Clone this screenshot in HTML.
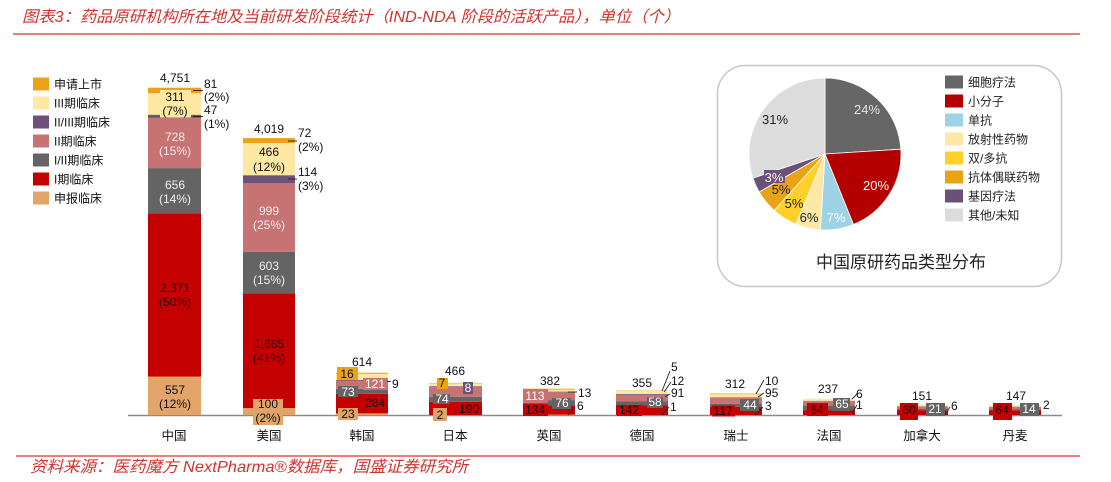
<!DOCTYPE html>
<html><head><meta charset="utf-8">
<style>
html,body{margin:0;padding:0;background:#fff;}
svg{display:block;}
text{font-family:"Liberation Sans","Noto Sans CJK SC",sans-serif;}
</style></head>
<body>
<svg width="1111" height="482" viewBox="0 0 1111 482" xmlns="http://www.w3.org/2000/svg">
<rect width="1111" height="482" fill="#fff"/>
<!-- title -->
<text x="22" y="22" font-size="16" font-style="italic" fill="#d2322d" textLength="658" lengthAdjust="spacingAndGlyphs">图表3：药品原研机构所在地及当前研发阶段统计（IND-NDA 阶段的活跃产品），单位（个）</text>
<line x1="13" y1="34" x2="1080" y2="34" stroke="#d9302c" stroke-width="1.3"/>
<line x1="16" y1="456" x2="1080" y2="456" stroke="#d9302c" stroke-width="1.3"/>
<text x="30" y="472" font-size="16" font-style="italic" fill="#d2322d" textLength="438" lengthAdjust="spacingAndGlyphs">资料来源：医药魔方 NextPharma®数据库，国盛证券研究所</text>

<!-- left legend -->
<g font-size="12" fill="#111">
<rect x="33" y="77.5" width="16" height="13" fill="#eaa319"/><text x="54" y="88.5">申请上市</text>
<rect x="33" y="96.5" width="16" height="13" fill="#fee8a4"/><text x="54" y="107.5">III期临床</text>
<rect x="33" y="115.5" width="16" height="13" fill="#6c5279"/><text x="54" y="126.5">II/III期临床</text>
<rect x="33" y="134.5" width="16" height="13" fill="#c87373"/><text x="54" y="145.5">II期临床</text>
<rect x="33" y="153.5" width="16" height="13" fill="#646464"/><text x="54" y="164.5">I/II期临床</text>
<rect x="33" y="172.5" width="16" height="13" fill="#c40000"/><text x="54" y="183.5">I期临床</text>
<rect x="33" y="191.5" width="16" height="13" fill="#e2a468"/><text x="54" y="202.5">申报临床</text>
</g>

<!-- axis -->
<line x1="128" y1="415.5" x2="1062" y2="415.5" stroke="#8a8a8a" stroke-width="1.4"/>

<!-- China -->
<g>
<rect x="148" y="376.6" width="53" height="38.4" fill="#e2a468"/>
<rect x="148" y="213.3" width="53" height="163.3" fill="#c40000"/>
<rect x="148" y="168.1" width="53" height="45.2" fill="#646464"/>
<rect x="148" y="117.9" width="53" height="50.2" fill="#c87373"/>
<rect x="148" y="114.7" width="53" height="3.2" fill="#6c5279"/>
<rect x="148" y="93.2" width="53" height="21.5" fill="#fee8a4"/>
<rect x="148" y="87.7" width="53" height="5.5" fill="#eaa319"/>
<rect x="160" y="90" width="31" height="27.5" fill="#fee8a4"/>
</g>
<!-- US -->
<g>
<rect x="243" y="408.1" width="52" height="6.9" fill="#e2a468"/>
<rect x="243" y="293.4" width="52" height="114.7" fill="#c40000"/>
<rect x="243" y="251.8" width="52" height="41.6" fill="#646464"/>
<rect x="243" y="183.0" width="52" height="68.8" fill="#c87373"/>
<rect x="243" y="175.2" width="52" height="7.8" fill="#6c5279"/>
<rect x="243" y="143.1" width="52" height="32.1" fill="#fee8a4"/>
<rect x="243" y="138.1" width="52" height="5.0" fill="#eaa319"/>
<rect x="253" y="399" width="30" height="26" fill="#e2a468"/>
</g>
<!-- Korea -->
<g>
<rect x="336" y="413.4" width="52" height="1.6" fill="#e2a468"/>
<rect x="336" y="393.85" width="52" height="19.55" fill="#c40000"/>
<rect x="336" y="388.8" width="52" height="5.05" fill="#646464"/>
<rect x="336" y="380.5" width="52" height="8.3" fill="#c87373"/>
<rect x="336" y="379.9" width="52" height="0.6" fill="#6c5279"/>
<rect x="336" y="373.8" width="52" height="6.1" fill="#fee8a4"/>
<rect x="336" y="372.7" width="52" height="1.1" fill="#eaa319"/>
<rect x="337" y="367" width="21" height="13" fill="#eaa319"/>
<rect x="363" y="378" width="25" height="12" fill="#c87373"/>
<rect x="338" y="386" width="20" height="11" fill="#646464"/>
<rect x="338" y="408" width="20" height="12" fill="#e2a468"/>
</g>
<!-- Japan -->
<g>
<rect x="429" y="401.8" width="53" height="13.2" fill="#c40000"/>
<rect x="429" y="396.7" width="53" height="5.1" fill="#646464"/>
<rect x="429" y="386.7" width="53" height="10" fill="#c87373"/>
<rect x="429" y="386.1" width="53" height="0.6" fill="#6c5279"/>
<rect x="429" y="383.4" width="53" height="2.7" fill="#fee8a4"/>
<rect x="429" y="382.9" width="53" height="0.5" fill="#eaa319"/>
<rect x="437" y="378" width="11" height="11" fill="#eaa319"/>
<rect x="463" y="382" width="10" height="12" fill="#6c5279"/>
<rect x="433" y="394" width="17" height="10" fill="#646464"/>
<rect x="433" y="408" width="14" height="13" fill="#e2a468"/>
</g>
<!-- UK -->
<g>
<rect x="523" y="414.6" width="52" height="0.4" fill="#e2a468"/>
<rect x="523" y="405.4" width="52" height="9.2" fill="#c40000"/>
<rect x="523" y="400.1" width="52" height="5.3" fill="#646464"/>
<rect x="523" y="392.3" width="52" height="7.8" fill="#c87373"/>
<rect x="523" y="391.6" width="52" height="0.7" fill="#6c5279"/>
<rect x="523" y="389.6" width="52" height="2.0" fill="#fee8a4"/>
<rect x="523" y="388.7" width="52" height="0.9" fill="#eaa319"/>
<rect x="523" y="389" width="25" height="14" fill="#c87373"/>
<rect x="552" y="398" width="19" height="11" fill="#646464"/>
<rect x="523" y="404" width="25" height="12" fill="#c40000"/>
</g>
<!-- Germany -->
<g>
<rect x="616" y="405.15" width="52" height="9.85" fill="#c40000"/>
<rect x="616" y="401.15" width="52" height="4" fill="#646464"/>
<rect x="616" y="394.9" width="52" height="6.25" fill="#c87373"/>
<rect x="616" y="394.05" width="52" height="0.85" fill="#6c5279"/>
<rect x="616" y="390.9" width="52" height="3.15" fill="#fee8a4"/>
<rect x="616" y="390.5" width="52" height="0.4" fill="#eaa319"/>
<rect x="647" y="397" width="16" height="11" fill="#646464"/>
<rect x="617" y="405" width="25" height="11" fill="#c40000"/>
</g>
<!-- Switzerland -->
<g>
<rect x="710" y="406.7" width="52" height="8.3" fill="#c40000"/>
<rect x="710" y="403.7" width="52" height="3" fill="#646464"/>
<rect x="710" y="397.15" width="52" height="6.55" fill="#c87373"/>
<rect x="710" y="394.2" width="52" height="2.95" fill="#fee8a4"/>
<rect x="710" y="393.5" width="52" height="0.7" fill="#eaa319"/>
<rect x="740" y="399" width="19" height="12" fill="#646464"/>
<rect x="712" y="405.5" width="23" height="11" fill="#c40000"/>
</g>
<!-- France -->
<g>
<rect x="803" y="410.5" width="52" height="4.5" fill="#c40000"/>
<rect x="803" y="406" width="52" height="4.5" fill="#646464"/>
<rect x="803" y="401.2" width="52" height="4.8" fill="#c87373"/>
<rect x="803" y="400.8" width="52" height="0.4" fill="#6c5279"/>
<rect x="803" y="398.7" width="52" height="2.1" fill="#fee8a4"/>
<rect x="807" y="403" width="21" height="13" fill="#c40000"/>
<rect x="833" y="398" width="17" height="13" fill="#646464"/>
</g>
<!-- Canada -->
<g>
<rect x="897" y="410.45" width="51" height="4.55" fill="#c40000"/>
<rect x="897" y="409" width="51" height="1.45" fill="#646464"/>
<rect x="897" y="406.25" width="51" height="2.75" fill="#c87373"/>
<rect x="897" y="404.6" width="51" height="1.65" fill="#fee8a4"/>
<rect x="900" y="403" width="18" height="17" fill="#c40000"/>
<rect x="926" y="403" width="19" height="13" fill="#646464"/>
</g>
<!-- Denmark -->
<g>
<rect x="989" y="410.45" width="52" height="4.55" fill="#c40000"/>
<rect x="989" y="409.5" width="52" height="0.95" fill="#646464"/>
<rect x="989" y="406.7" width="52" height="2.8" fill="#c87373"/>
<rect x="989" y="404.9" width="52" height="1.8" fill="#fee8a4"/>
<rect x="993" y="403" width="19" height="17" fill="#c40000"/>
<rect x="1020" y="403" width="19" height="13" fill="#646464"/>
</g>

<!-- leader lines -->
<g stroke="#222" stroke-width="0.9">
<line x1="193" y1="90.5" x2="203" y2="90.5"/>
<line x1="193" y1="116.5" x2="203" y2="116.5"/>
<line x1="288" y1="141" x2="297" y2="141"/>
<line x1="288" y1="179" x2="297" y2="179"/>
<line x1="387" y1="381.5" x2="391" y2="381.5"/>
<line x1="568" y1="392" x2="577" y2="392"/>
<line x1="568" y1="415" x2="575" y2="407"/>
<line x1="662" y1="391" x2="670" y2="371"/>
<line x1="664" y1="392" x2="671" y2="382"/>
<line x1="665" y1="397" x2="670" y2="394"/>
<line x1="662" y1="415" x2="669" y2="407"/>
<line x1="756" y1="394" x2="764" y2="380"/>
<line x1="758" y1="397" x2="764" y2="393"/>
<line x1="756" y1="415" x2="763" y2="407"/>
<line x1="852" y1="399" x2="858" y2="393"/>
<line x1="852" y1="413" x2="857" y2="405"/>
<line x1="945" y1="415" x2="950" y2="407"/>
</g>

<!-- bar labels -->
<g font-size="12" text-anchor="middle" fill="#111">
<text x="175" y="82">4,751</text>
<text x="175" y="101">311</text><text x="175" y="115">(7%)</text>
<text x="175" y="141" fill="#f4eaea">728</text><text x="175" y="155" fill="#f4eaea">(15%)</text>
<text x="175" y="189" fill="#eeeeee">656</text><text x="175" y="203" fill="#eeeeee">(14%)</text>
<text x="175" y="292" fill="#2a0a0a">2,371</text><text x="175" y="306" fill="#2a0a0a">(50%)</text>
<text x="175" y="394">557</text><text x="175" y="408">(12%)</text>

<text x="269" y="133">4,019</text>
<text x="269" y="156">466</text><text x="269" y="171">(12%)</text>
<text x="269" y="215" fill="#f4eaea">999</text><text x="269" y="229" fill="#f4eaea">(25%)</text>
<text x="269" y="270" fill="#eeeeee">603</text><text x="269" y="284" fill="#eeeeee">(15%)</text>
<text x="269" y="348" fill="#2a0a0a">1,665</text><text x="269" y="362" fill="#2a0a0a">(41%)</text>
<text x="268" y="408">100</text><text x="268" y="422">(2%)</text>

<text x="362" y="366">614</text>
<text x="347" y="378">16</text>
<text x="375" y="388" fill="#fff">121</text>
<text x="348" y="396" fill="#fff">73</text>
<text x="375" y="407" fill="#1a0505">284</text>
<text x="348" y="418">23</text>

<text x="455" y="375">466</text>
<text x="442" y="387">7</text>
<text x="468" y="392" fill="#fff">8</text>
<text x="442" y="403" fill="#fff">74</text>
<text x="469" y="413" fill="#1a0505">190</text>
<text x="440" y="419">2</text>

<text x="550" y="385">382</text>
<text x="535" y="400" fill="#fff">113</text>
<text x="562" y="407" fill="#fff">76</text>
<text x="535" y="414" fill="#1a0505">134</text>

<text x="642" y="387">355</text>
<text x="655" y="406" fill="#fff">58</text>
<text x="629" y="414" fill="#1a0505">142</text>

<text x="735" y="388">312</text>
<text x="750" y="409" fill="#fff">44</text>
<text x="723" y="415" fill="#1a0505">117</text>

<text x="828" y="393">237</text>
<text x="817" y="414" fill="#1a0505">64</text>
<text x="842" y="408" fill="#fff">65</text>

<text x="922" y="400">151</text>
<text x="909" y="414" fill="#1a0505">60</text>
<text x="935" y="413" fill="#fff">21</text>

<text x="1016" y="400">147</text>
<text x="1002" y="414" fill="#1a0505">64</text>
<text x="1029" y="413" fill="#fff">14</text>
</g>
<g font-size="12" fill="#111">
<text x="204" y="88">81</text><text x="204" y="101">(2%)</text>
<text x="204" y="114">47</text><text x="204" y="128">(1%)</text>
<text x="298" y="137">72</text><text x="298" y="151">(2%)</text>
<text x="298" y="176">114</text><text x="298" y="190">(3%)</text>
<text x="392" y="388">9</text>
<text x="578" y="397">13</text>
<text x="577" y="410">6</text>
<text x="671" y="371">5</text>
<text x="671" y="385">12</text>
<text x="671" y="397">91</text>
<text x="670" y="411">1</text>
<text x="765" y="385">10</text>
<text x="765" y="397">95</text>
<text x="765" y="410">3</text>
<text x="856" y="398">6</text>
<text x="856" y="409">1</text>
<text x="951" y="410">6</text>
<text x="1043" y="409">2</text>
</g>

<!-- category labels -->
<g font-size="12.5" text-anchor="middle" fill="#111">
<text x="174" y="440">中国</text>
<text x="269" y="440">美国</text>
<text x="362" y="440">韩国</text>
<text x="455" y="440">日本</text>
<text x="549" y="440">英国</text>
<text x="642" y="440">德国</text>
<text x="736" y="440">瑞士</text>
<text x="829" y="440">法国</text>
<text x="922" y="440">加拿大</text>
<text x="1015" y="440">丹麦</text>
</g>

<!-- pie box -->
<rect x="717.5" y="65.5" width="344" height="221" rx="28" ry="28" fill="#fff" stroke="#c8c8c8" stroke-width="1.5"/>
<g stroke="#fff" stroke-width="0.8">
<path d="M825,154 L825,78 A76,76 0 0 1 900.85,149.2 Z" fill="#666666"/>
<path d="M825,154 L900.85,149.2 A76,76 0 0 1 853.47,224.47 Z" fill="#b50000"/>
<path d="M825,154 L853.47,224.47 A76,76 0 0 1 820.36,229.86 Z" fill="#9dd3e4"/>
<path d="M825,154 L820.36,229.86 A76,76 0 0 1 795.92,224.22 Z" fill="#ffe8a6"/>
<path d="M825,154 L795.92,224.22 A76,76 0 0 1 774.15,210.48 Z" fill="#ffd02a"/>
<path d="M825,154 L774.15,210.48 A76,76 0 0 1 759.18,192 Z" fill="#e8a317"/>
<path d="M825,154 L759.18,192 A76,76 0 0 1 752.93,178.12 Z" fill="#6b5079"/>
<path d="M825,154 L752.93,178.12 A76,76 0 0 1 825,78 Z" fill="#dcdcdc"/>
</g>
<rect x="764" y="170" width="21" height="13" fill="#6b5079"/>
<g font-size="13" text-anchor="middle">
<text x="867" y="114" fill="#e4e4e4">24%</text>
<text x="876" y="190" fill="#fff">20%</text>
<text x="836" y="222" fill="#fff">7%</text>
<text x="809" y="222" fill="#222">6%</text>
<text x="794" y="208" fill="#222">5%</text>
<text x="781" y="194" fill="#222">5%</text>
<text x="774" y="182" fill="#fff">3%</text>
<text x="775" y="124" fill="#222">31%</text>
</g>
<g font-size="12" fill="#222">
<rect x="945" y="75.5" width="18" height="13" fill="#666666"/><text x="968" y="86.5">细胞疗法</text>
<rect x="945" y="94.5" width="18" height="13" fill="#b50000"/><text x="968" y="105.5">小分子</text>
<rect x="945" y="113.5" width="18" height="13" fill="#9dd3e4"/><text x="968" y="124.5">单抗</text>
<rect x="945" y="132.5" width="18" height="13" fill="#ffe8a6"/><text x="968" y="143.5">放射性药物</text>
<rect x="945" y="151.5" width="18" height="13" fill="#ffd02a"/><text x="968" y="162.5">双/多抗</text>
<rect x="945" y="170.5" width="18" height="13" fill="#e8a317"/><text x="968" y="181.5">抗体偶联药物</text>
<rect x="945" y="189.5" width="18" height="13" fill="#6b5079"/><text x="968" y="200.5">基因疗法</text>
<rect x="945" y="208.5" width="18" height="13" fill="#dcdcdc"/><text x="968" y="219.5">其他/未知</text>
</g>
<text x="901" y="268" font-size="17" text-anchor="middle" fill="#222">中国原研药品类型分布</text>
</svg>
</body></html>
